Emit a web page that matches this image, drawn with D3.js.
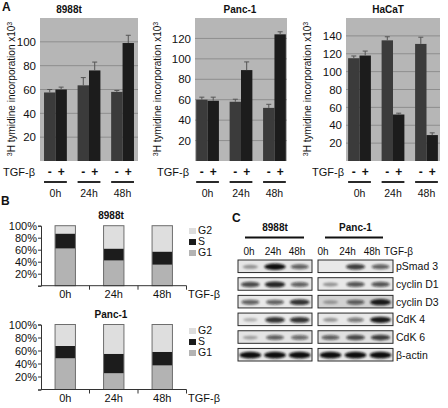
<!DOCTYPE html>
<html><head><meta charset="utf-8">
<script src="https://cdn.jsdelivr.net/npm/d3@7"></script>
<style>body{margin:0;background:#fff} svg{display:block} text{font-family:Arial,"Liberation Sans",sans-serif;fill:#111}</style>
</head><body><svg id="c" width="448" height="408"></svg>
<script>
// ---------- DATA ----------
const timePoints = ["0h", "24h", "48h"];
const treatments = ["-", "+"];
// Panel A: 3H thymidine incorporation x10^3
const v8988tMinus = [57.5, 63.5, 58];
const e8988tMinus = [2.5, 6.5, 1.2];
const v8988tPlus = [60, 76, 99];
const e8988tPlus = [2, 7, 6.5];
const vPancMinus = [60, 58, 52];
const ePancMinus = [2.5, 2.5, 3.5];
const vPancPlus = [59, 89, 124];
const ePancPlus = [3.5, 8, 2.5];
const vHaCaTMinus = [115, 135, 131];
const eHaCaTMinus = [2.5, 4, 7.5];
const vHaCaTPlus = [118, 52, 29];
const eHaCaTPlus = [5, 1.5, 2.5];
const ticks8988t = [20, 40, 60, 80, 100];
const ticksPanc = [20, 40, 60, 80, 100, 120];
const ticksHaCaT = [20, 40, 60, 80, 100, 120, 140];
// Panel B: cell-cycle distribution (%)
const phases = ["G1", "S", "G2"];
const b8988tG1 = [62, 42, 35];
const b8988tS = [25, 20, 22];
const b8988tG2 = [13, 38, 43];
const bPancG1 = [48, 25, 37];
const bPancS = [19, 30, 21];
const bPancG2 = [33, 45, 42];
const pctTicks = [20, 40, 60, 80, 100];
// Panel C: western blot band intensities (0..1)
const proteins = ["pSmad 3", "cyclin D1", "cyclin D3", "CdK 4", "CdK 6", "β-actin"];
const blot8988t = [[0.35, 0.95, 0.6], [0.7, 0.85, 0.6], [0.6, 0.6, 0.8], [0.25, 0.8, 0.8], [0.3, 0.6, 0.55], [1, 1, 1]];
const blotPanc = [[0.0, 0.75, 0.6], [0.35, 0.65, 0.65], [0.3, 0.6, 0.9], [0.35, 0.5, 0.9], [0.6, 0.7, 0.75], [1, 1, 1]];
const blotBg8988t = ["#e6e6e6", "#e8e8e8", "#e8e8e8", "#eaeaea", "#e4e4e4", "#e8e8e8"];
const blotBgPanc = ["#e8e8e8", "#e8e8e8", "#d2d2d2", "#e8e8e8", "#e0e0e0", "#e8e8e8"];

// ---------- DRAW ----------
const svg = d3.select("#c");
const FONT = 'Arial,"Liberation Sans",sans-serif';

// Panel letters
svg.append("text").attr("x", 2).attr("y", 11).attr("font-size", 12).attr("font-weight", "bold").text("A");
svg.append("text").attr("x", 1).attr("y", 205).attr("font-size", 12).attr("font-weight", "bold").text("B");
svg.append("text").attr("x", 232).attr("y", 222).attr("font-size", 12).attr("font-weight", "bold").text("C");

function drawA(cfg) {
  const g = svg.append("g");
  const yTop = 18, yBot = 161;
  const x = d3.scaleBand().domain(timePoints).range([cfg.x0, cfg.x1]).paddingInner(0.32).paddingOuter(cfg.po);
  const xs = d3.scaleBand().domain(treatments).range([0, x.bandwidth()]);
  const y = d3.scaleLinear().domain([0, cfg.yMax]).range([yBot, yTop]);
  g.append("rect").attr("x", cfg.x0).attr("y", yTop).attr("width", cfg.x1 - cfg.x0).attr("height", yBot - yTop).attr("fill", "#b6b6b6");
  g.selectAll(".grid").data(cfg.ticks).join("line")
    .attr("x1", cfg.x0).attr("x2", cfg.x1).attr("y1", d => y(d)).attr("y2", d => y(d))
    .attr("stroke", "#8e8e8e").attr("stroke-width", 1);
  const ax = g.append("g").attr("transform", `translate(${cfg.x0 - 1},0)`)
    .call(d3.axisLeft(y).tickValues(cfg.ticks).tickSize(0).tickPadding(3));
  ax.select(".domain").remove();
  ax.selectAll("text").attr("font-size", 11.5).attr("font-family", FONT).attr("fill", "#111");
  g.append("text").attr("x", cfg.titleX).attr("y", 13).attr("text-anchor", "middle")
    .attr("font-size", 10).attr("font-weight", "bold").text(cfg.title);
  const yl = g.append("text").attr("transform", `translate(${cfg.ylabX},89) rotate(-90)`)
    .attr("text-anchor", "middle").attr("font-size", 10);
  yl.append("tspan").attr("font-size", 7).attr("dy", -3).text("3");
  yl.append("tspan").attr("dy", 3).text("H tymidine incorporation x10");
  yl.append("tspan").attr("font-size", 7).attr("dy", -3).text("3");
  const rows = [];
  timePoints.forEach((t, i) => {
    rows.push({ t, tr: "-", v: cfg.minus[i], e: cfg.eMinus[i] });
    rows.push({ t, tr: "+", v: cfg.plus[i], e: cfg.ePlus[i] });
  });
  const color = { "-": "#3b3b3b", "+": "#1c1c1c" };
  g.selectAll(".bar").data(rows).join("rect")
    .attr("x", d => x(d.t) + xs(d.tr)).attr("width", xs.bandwidth())
    .attr("y", d => y(d.v)).attr("height", d => yBot - y(d.v)).attr("fill", d => color[d.tr]);
  const cx = d => x(d.t) + xs(d.tr) + xs.bandwidth() / 2;
  g.selectAll(".ev").data(rows).join("line")
    .attr("x1", cx).attr("x2", cx).attr("y1", d => y(d.v)).attr("y2", d => y(d.v + d.e))
    .attr("stroke", "#555").attr("stroke-width", 1);
  g.selectAll(".ec").data(rows).join("line")
    .attr("x1", d => cx(d) - 2.5).attr("x2", d => cx(d) + 2.5).attr("y1", d => y(d.v + d.e)).attr("y2", d => y(d.v + d.e))
    .attr("stroke", "#555").attr("stroke-width", 1);
  g.append("text").attr("x", cfg.tgfX).attr("y", 176).attr("font-size", 11).text("TGF-β");
  g.selectAll(".sg").data(rows).join("text")
    .attr("x", cx).attr("y", 176).attr("text-anchor", "middle").attr("font-size", 12).attr("font-weight", "bold")
    .text(d => d.tr);
  g.selectAll(".ul").data(timePoints).join("line")
    .attr("x1", d => x(d)).attr("x2", d => x(d) + x.bandwidth()).attr("y1", 182).attr("y2", 182)
    .attr("stroke", "#111").attr("stroke-width", 1.8);
  g.selectAll(".tl").data(timePoints).join("text")
    .attr("x", d => x(d) + x.bandwidth() / 2).attr("y", 197).attr("text-anchor", "middle").attr("font-size", 10.5)
    .text(d => d);
}

drawA({ x0: 40, x1: 138, po: 0.12, yMax: 120, ticks: ticks8988t, title: "8988t", titleX: 69, ylabX: 15, tgfX: 3,
  minus: v8988tMinus, eMinus: e8988tMinus, plus: v8988tPlus, ePlus: e8988tPlus });
drawA({ x0: 195, x1: 287, po: 0.035, yMax: 140, ticks: ticksPanc, title: "Panc-1", titleX: 240, ylabX: 161, tgfX: 157,
  minus: vPancMinus, eMinus: ePancMinus, plus: vPancPlus, ePlus: ePancPlus });
drawA({ x0: 346, x1: 440, po: 0.063, yMax: 160, ticks: ticksHaCaT, title: "HaCaT", titleX: 388, ylabX: 311, tgfX: 312,
  minus: vHaCaTMinus, eMinus: eHaCaTMinus, plus: vHaCaTPlus, ePlus: eHaCaTPlus });

// ---------- Panel B ----------
function drawB(cfg) {
  const g = svg.append("g");
  const x = d3.scaleBand().domain(timePoints).range([41, 186.5]).paddingInner(0.58).paddingOuter(0.29);
  const y = d3.scaleLinear().domain([0, 100]).range([cfg.yBot, cfg.yTop]);
  const data = timePoints.map((t, i) => ({ t, G1: cfg.G1[i], S: cfg.S[i], G2: cfg.G2[i] }));
  const stack = d3.stack().keys(phases)(data);
  const col = { G1: "#b3b3b3", S: "#1c1c1c", G2: "#dedede" };
  g.selectAll(".ser").data(stack).join("g").attr("fill", d => col[d.key])
    .selectAll("rect").data(d => d).join("rect")
    .attr("x", d => x(d.data.t)).attr("width", x.bandwidth())
    .attr("y", d => y(d[1])).attr("height", d => y(d[0]) - y(d[1]));
  g.selectAll(".outline").data(data).join("rect")
    .attr("x", d => x(d.t)).attr("width", x.bandwidth()).attr("y", y(100)).attr("height", y(0) - y(100))
    .attr("fill", "none").attr("stroke", "#6e6e6e").attr("stroke-width", 1);
  const ay = g.append("g").attr("transform", "translate(41,0)")
    .call(d3.axisLeft(y).tickValues([0].concat(pctTicks)).tickSize(3).tickPadding(1).tickFormat(d => d === 0 ? "" : d + "%"));
  ay.selectAll("path,line").attr("stroke", "#333");
  ay.selectAll("text").attr("font-size", 11).attr("font-family", FONT).attr("fill", "#111");
  const bounds = [1, 2, 3].map(i => 41 + i * x.step());
  g.append("line").attr("x1", 41).attr("x2", 41 + 3 * x.step()).attr("y1", cfg.yBot).attr("y2", cfg.yBot).attr("stroke", "#333");
  g.selectAll(".xt").data(bounds).join("line")
    .attr("x1", d => d).attr("x2", d => d).attr("y1", cfg.yBot).attr("y2", cfg.yBot + 4).attr("stroke", "#333");
  g.selectAll(".xl").data(timePoints).join("text")
    .attr("x", d => x(d) + x.bandwidth() / 2).attr("y", cfg.yBot + 12).attr("text-anchor", "middle").attr("font-size", 11)
    .text(d => d);
  g.append("text").attr("x", 188).attr("y", cfg.yBot + 12).attr("font-size", 11).text("TGF-β");
  g.append("text").attr("x", 111).attr("y", cfg.yTop - 7).attr("text-anchor", "middle").attr("font-size", 10)
    .attr("font-weight", "bold").text(cfg.title);
  const leg = ["G2", "S", "G1"];
  const lg = g.selectAll(".lg").data(leg).join("g")
    .attr("transform", (d, i) => `translate(189,${cfg.legY + i * 11})`);
  lg.append("rect").attr("width", 7).attr("height", 6).attr("fill", d => col[d]);
  lg.append("text").attr("x", 9).attr("y", 6).attr("font-size", 10.5).text(d => d);
}
drawB({ yTop: 225.7, yBot: 285.7, G1: b8988tG1, S: b8988tS, G2: b8988tG2, title: "8988t", legY: 228 });
drawB({ yTop: 324.5, yBot: 389.5, G1: bPancG1, S: bPancS, G2: bPancG2, title: "Panc-1", legY: 328 });

// ---------- Panel C ----------
const defs = svg.append("defs");
defs.append("filter").attr("id", "blur").attr("x", "-50%").attr("y", "-100%").attr("width", "200%").attr("height", "300%")
  .append("feGaussianBlur").attr("stdDeviation", 0.9);
const rowY = d3.scaleBand().domain(proteins).range([260, 361]).paddingInner(0.29).paddingOuter(0);
function drawBlot(cfg) {
  const g = svg.append("g");
  const lane = d3.scaleBand().domain(timePoints).range([cfg.x0, cfg.x1]);
  const laneLab = d3.scalePoint().domain(timePoints).range(cfg.labRange);
  g.append("text").attr("x", (cfg.x0 + cfg.x1) / 2).attr("y", 231).attr("text-anchor", "middle")
    .attr("font-size", 10).attr("font-weight", "bold").text(cfg.title);
  g.append("line").attr("x1", cfg.ux0).attr("x2", cfg.ux1).attr("y1", 237.5).attr("y2", 237.5).attr("stroke", "#111").attr("stroke-width", 1.8);
  g.selectAll(".ll").data(timePoints).join("text")
    .attr("x", d => laneLab(d)).attr("y", 255).attr("text-anchor", "middle").attr("font-size", 10).text(d => d);
  proteins.forEach((p, r) => {
    const gy = rowY(p), h = rowY.bandwidth();
    g.append("rect").attr("x", cfg.x0).attr("y", gy).attr("width", cfg.x1 - cfg.x0).attr("height", h)
      .attr("fill", cfg.bg[r]);
    g.selectAll(".band" + r).data(cfg.vals[r]).join("ellipse")
      .attr("cx", (d, i) => lane(timePoints[i]) + lane.bandwidth() / 2)
      .attr("cy", gy + h / 2 + 0.5)
      .attr("rx", d => 6 + 5 * d).attr("ry", d => 1.2 + 2.2 * d)
      .attr("fill", "#101010").attr("fill-opacity", d => Math.min(1, d * 1.05))
      .attr("filter", "url(#blur)");
    g.append("rect").attr("x", cfg.x0).attr("y", gy).attr("width", cfg.x1 - cfg.x0).attr("height", h)
      .attr("fill", "none").attr("stroke", "#2a2a2a").attr("stroke-width", 1);
  });
}
drawBlot({ x0: 238, x1: 312, ux0: 245, ux1: 304, labRange: [249, 297], title: "8988t", vals: blot8988t, bg: blotBg8988t });
drawBlot({ x0: 318, x1: 393, ux0: 325, ux1: 383, labRange: [323, 372], title: "Panc-1", vals: blotPanc, bg: blotBgPanc });
svg.append("text").attr("x", 384).attr("y", 255).attr("font-size", 10).text("TGF-β");
svg.selectAll(".pl").data(proteins).join("text")
  .attr("x", 396).attr("y", d => rowY(d) + rowY.bandwidth() / 2 + 4).attr("font-size", 10.5).text(d => d);
</script></body></html>
